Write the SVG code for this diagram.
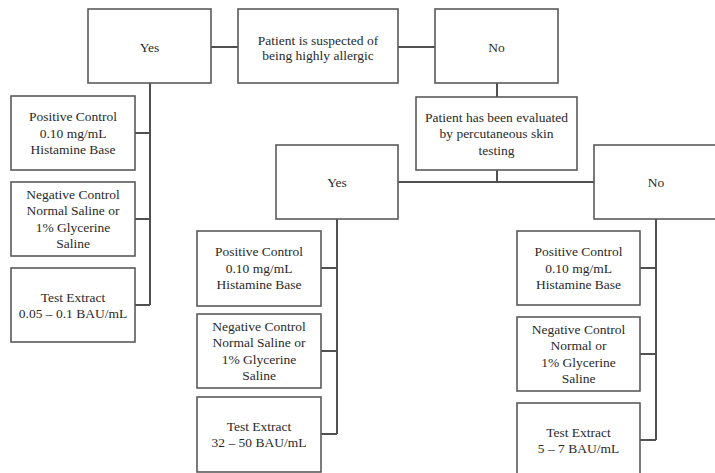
<svg xmlns="http://www.w3.org/2000/svg" width="715" height="473" viewBox="0 0 715 473">
<style>
.box{fill:#fff;stroke:#5a5a5a;stroke-width:1.6}
.t{font-family:"Liberation Serif","Times New Roman",serif;font-size:13.5px;fill:#2a2a2a;text-anchor:middle}
.c{fill:none;stroke:#505050;stroke-width:2}
</style>
<rect width="715" height="473" fill="#fff"/>
<g id="connectors">
<path class="c" d="M211,47H238M398,47H435M497,83V97M497,170V182M398,182H594"/>
<path class="c" d="M150,83V305M135,133H150M135,219H150M135,305H150"/>
<path class="c" d="M337,219V434M321,268H337M321,351H337M321,434H337"/>
<path class="c" d="M656,219V440M640,268H656M640,354H656M640,440H656"/>
</g>
<g id="top_yes"><rect class="box" x="88" y="9" width="123" height="74"/><text class="t" x="149.5" y="51.5">Yes</text></g>
<g id="root"><rect class="box" x="238" y="9" width="160" height="74"/><text class="t"><tspan x="318" y="44.5">Patient is suspected of</tspan><tspan x="318" y="59.5">being highly allergic</tspan></text></g>
<g id="top_no"><rect class="box" x="435" y="9" width="123" height="74"/><text class="t" x="496.5" y="51.5">No</text></g>
<g id="evaluated"><rect class="box" x="416" y="97" width="161" height="73"/><text class="t"><tspan x="496.5" y="121.5">Patient has been evaluated</tspan><tspan x="496.5" y="138">by percutaneous skin</tspan><tspan x="496.5" y="154.5">testing</tspan></text></g>
<g id="left_pos"><rect class="box" x="11" y="96" width="124" height="74"/><text class="t"><tspan x="73" y="121">Positive Control</tspan><tspan x="73" y="137.5">0.10 mg/mL</tspan><tspan x="73" y="154">Histamine Base</tspan></text></g>
<g id="left_neg"><rect class="box" x="11" y="182" width="124" height="74"/><text class="t"><tspan x="73" y="198.5">Negative Control</tspan><tspan x="73" y="215">Normal Saline or</tspan><tspan x="73" y="231.5">1% Glycerine</tspan><tspan x="73" y="248">Saline</tspan></text></g>
<g id="left_test"><rect class="box" x="11" y="268" width="124" height="74"/><text class="t"><tspan x="73" y="301.5">Test Extract</tspan><tspan x="73" y="318">0.05 – 0.1 BAU/mL</tspan></text></g>
<g id="mid_yes"><rect class="box" x="276" y="145" width="122" height="74"/><text class="t" x="337" y="186.5">Yes</text></g>
<g id="mid_pos"><rect class="box" x="197" y="231" width="124" height="75"/><text class="t"><tspan x="259" y="256">Positive Control</tspan><tspan x="259" y="272.5">0.10 mg/mL</tspan><tspan x="259" y="289">Histamine Base</tspan></text></g>
<g id="mid_neg"><rect class="box" x="197" y="314" width="124" height="74"/><text class="t"><tspan x="259" y="330.5">Negative Control</tspan><tspan x="259" y="347">Normal Saline or</tspan><tspan x="259" y="363.5">1% Glycerine</tspan><tspan x="259" y="380">Saline</tspan></text></g>
<g id="mid_test"><rect class="box" x="197" y="397" width="124" height="75"/><text class="t"><tspan x="259" y="430.5">Test Extract</tspan><tspan x="259" y="447">32 – 50 BAU/mL</tspan></text></g>
<g id="right_no"><rect class="box" x="594" y="145" width="124" height="74"/><text class="t" x="656" y="186.5">No</text></g>
<g id="right_pos"><rect class="box" x="517" y="231" width="123" height="74"/><text class="t"><tspan x="578.5" y="256">Positive Control</tspan><tspan x="578.5" y="272.5">0.10 mg/mL</tspan><tspan x="578.5" y="289">Histamine Base</tspan></text></g>
<g id="right_neg"><rect class="box" x="517" y="317" width="123" height="74"/><text class="t"><tspan x="578.5" y="333.5">Negative Control</tspan><tspan x="578.5" y="350">Normal or</tspan><tspan x="578.5" y="366.5">1% Glycerine</tspan><tspan x="578.5" y="383">Saline</tspan></text></g>
<g id="right_test"><rect class="box" x="517" y="403" width="123" height="75"/><text class="t"><tspan x="578.5" y="436.5">Test Extract</tspan><tspan x="578.5" y="453">5 – 7 BAU/mL</tspan></text></g>
</svg>
